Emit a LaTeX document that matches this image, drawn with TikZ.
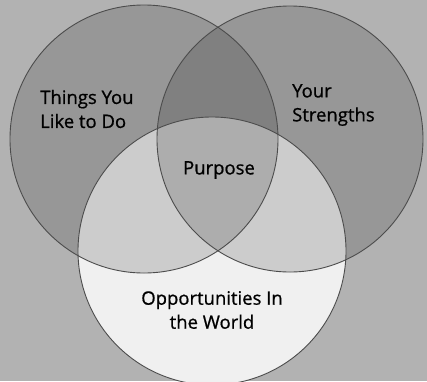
\documentclass[tikz,border=0pt]{standalone}
\usepackage{fontspec}
\setmainfont{Open Sans}
\newfontfamily\labfont[FakeBold=0.8]{Open Sans}
\begin{document}
\begin{tikzpicture}[x=1pt,y=-1pt,
  outline/.style={draw=black!70,line width=0.9pt},
  shade/.style={fill=black,fill opacity=0.15},
  label/.style={font=\labfont\fontsize{18.5}{24}\selectfont,text=black,inner sep=0pt}]
\useasboundingbox (0,0) rectangle (427,381);
\fill[black!30] (0,0) rectangle (427,381);
% bottom circle (light)
\fill[black!6] (212,251) circle[radius=134];
% top circles (darker, translucent)
\fill[shade] (144,139) circle[radius=134];
\fill[shade] (290,139) circle[radius=133];
% outlines
\draw[outline] (212,251) circle[radius=134];
\draw[outline] (144,139) circle[radius=134];
\draw[outline] (290,139) circle[radius=133];
% labels
\node[label,align=left,anchor=west] (like) at (40,109) {Things You\\Like to Do};
\node[label,align=left,anchor=west] (str) at (292,105) {Your\\Strengths};
\node[label] (purp) at (219,170) {Purpose};
\node[label,align=center] (opp) at (212,310) {Opportunities In\\the World};
\end{tikzpicture}
\end{document}
